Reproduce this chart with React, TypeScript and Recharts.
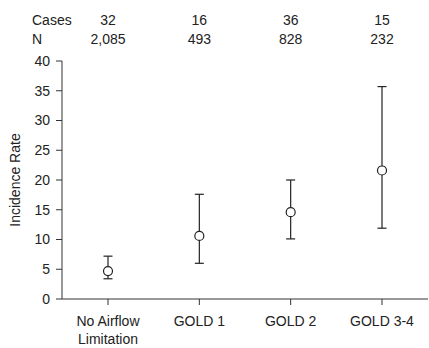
import { FC } from 'react';
import { ComposedChart, Line, ErrorBar, XAxis, YAxis } from 'recharts';

const categories = ['No Airflow\nLimitation', 'GOLD 1', 'GOLD 2', 'GOLD 3-4'];
const rates = [4.7, 10.6, 14.6, 21.6];
const lowerCI = [3.4, 6.0, 10.1, 11.9];
const upperCI = [7.2, 17.6, 20.0, 35.7];
const cases = ['32', '16', '36', '15'];
const nValues = ['2,085', '493', '828', '232'];
const yTicks = [0, 5, 10, 15, 20, 25, 30, 35, 40];

const FONT = '"Liberation Sans", Arial, Helvetica, sans-serif';
const INK = '#222';
const X_PAD = { left: 46, right: 46 };

const data = categories.map((name, i) => ({
  name,
  rate: rates[i],
  err: [rates[i] - lowerCI[i], upperCI[i] - rates[i]],
}));

const BottomTick: FC<any> = ({ x, y, payload }) => {
  const lines = String(payload.value).split('\n');
  return (
    <text x={x} y={y} textAnchor="middle" fill={INK} fontSize={14} fontFamily={FONT}>
      {lines.map((line, i) => (
        <tspan key={i} x={x} dy={i === 0 ? 19 : 18}>
          {line}
        </tspan>
      ))}
    </text>
  );
};

const TopTick: FC<any> = ({ x, payload }) => {
  const i = payload.index;
  return (
    <g fill={INK} fontSize={14} fontFamily={FONT} textAnchor="middle">
      <text x={x} y={25}>{cases[i]}</text>
      <text x={x} y={44}>{nValues[i]}</text>
    </g>
  );
};

const Dot: FC<any> = ({ cx, cy }) => (
  <circle cx={cx} cy={cy} r={4.5} fill="#fff" stroke={INK} strokeWidth={1.2} />
);

const App: FC = () => (
  <div style={{ position: 'absolute', left: 0, top: 0, width: 429, height: 348, background: '#fff' }}>
    <ComposedChart
      width={429}
      height={348}
      data={data}
      margin={{ top: 8, right: 1, bottom: 0, left: 0 }}
    >
      <XAxis
        dataKey="name"
        xAxisId="bottom"
        height={49}
        stroke="#333"
        tickSize={6}
        tick={<BottomTick />}
        interval={0}
        padding={X_PAD}
      />
      <XAxis
        dataKey="name"
        xAxisId="top"
        orientation="top"
        height={53}
        axisLine={false}
        tickLine={false}
        tick={<TopTick />}
        interval={0}
        padding={X_PAD}
      />
      <YAxis
        domain={[0, 40]}
        ticks={yTicks}
        width={62}
        stroke="#333"
        tickSize={6}
        tickMargin={6}
        tick={{ fill: INK, fontSize: 14, fontFamily: FONT }}
        label={{
          content: ({ viewBox }: any) => {
            const cx = 15;
            const cy = viewBox.y + viewBox.height / 2;
            return (
              <text
                x={cx}
                y={cy}
                transform={`rotate(-90, ${cx}, ${cy})`}
                textAnchor="middle"
                dominantBaseline="central"
                fill={INK}
                fontSize={14}
                fontFamily={FONT}
              >
                Incidence Rate
              </text>
            );
          },
        }}
      />
      <Line
        xAxisId="bottom"
        dataKey="rate"
        stroke="none"
        dot={<Dot />}
        activeDot={false}
        isAnimationActive={false}
      >
        <ErrorBar dataKey="err" width={4.5} stroke={INK} strokeWidth={1.2} direction="y" />
      </Line>
      <text x={32} y={25} fill={INK} fontSize={14} fontFamily={FONT}>
        Cases
      </text>
      <text x={32} y={44} fill={INK} fontSize={14} fontFamily={FONT}>
        N
      </text>
    </ComposedChart>
  </div>
);

export default App;
